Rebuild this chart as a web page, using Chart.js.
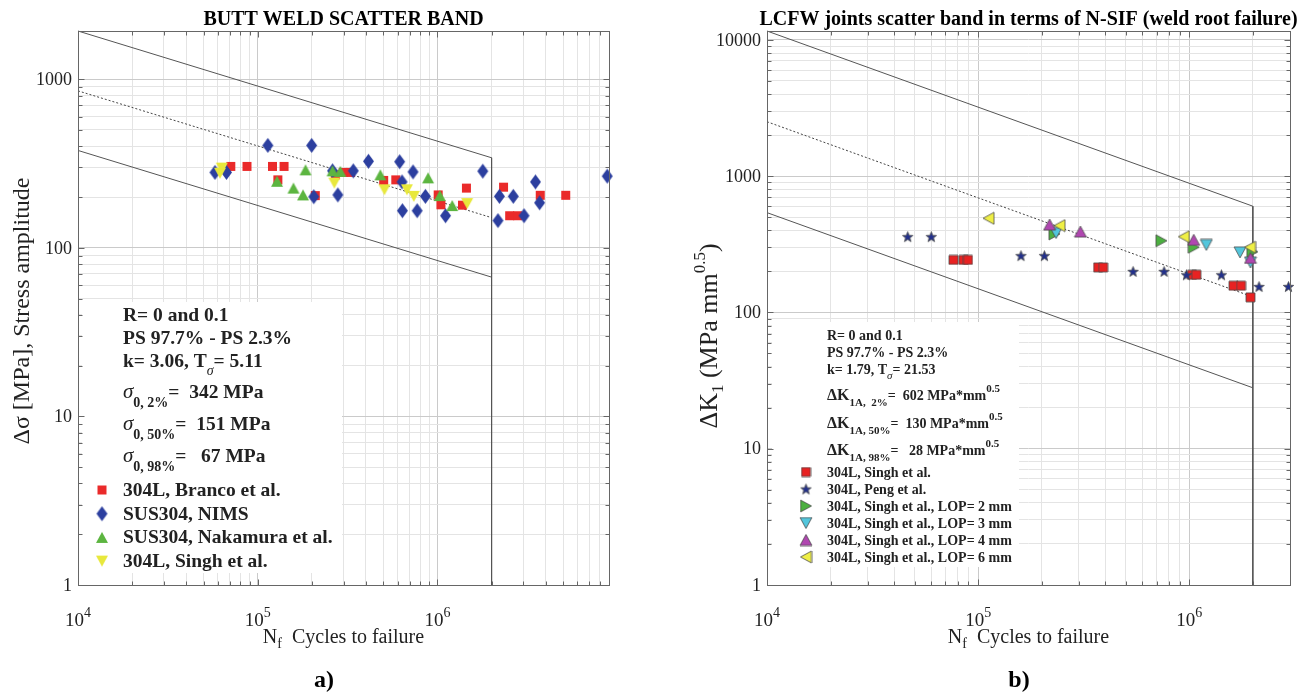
<!DOCTYPE html>
<html>
<head>
<meta charset="utf-8">
<title>Scatter bands</title>
<script src="https://cdn.jsdelivr.net/npm/chart.js@4.4.1/dist/chart.umd.min.js"></script>
<style>
  html, body { margin: 0; padding: 0; background: #fff; }
  #wrap { position: relative; width: 1305px; height: 692px; }
  #wrap canvas { position: absolute; left: 0; top: 0; }
</style>
</head>
<body>
<div id="wrap">
  <canvas id="buttWeld" width="1305" height="692"></canvas>
  <canvas id="lcfw" width="1305" height="692"></canvas>
</div>
<script>
// ---- butt weld data: cycles to failure / stress amplitude [MPa]
const brancoN = [70800, 87100, 120800, 140000, 129400, 209000, 270000, 299000, 328000, 502000,
                 586000, 1009000, 1045000, 1377000, 1449000, 2330000, 2520000, 2790000, 3730000, 5170000];
const brancoS = [304, 304, 304, 304, 253, 204, 271, 280, 280, 251,
                 253, 206, 180, 179, 226, 229, 155, 155, 205, 205];

const nimsN = [57800, 67000, 113800, 199500, 205000, 279000, 260600, 340000, 413000, 616000,
               635000, 731000, 638000, 771000, 857000, 1109000, 1787000, 2170000, 2210000, 2640000,
               3030000, 3510000, 3700000, 8800000];
const nimsS = [280, 280, 405, 405, 201, 206, 286, 286, 326, 324,
               246, 282, 166, 166, 202, 155, 285, 145, 202, 202,
               155, 246, 185, 266];

const nakamuraN = [128000, 184500, 158000, 178600, 260600, 288000, 481000, 887000, 1030000, 1208000];
const nakamuraS = [248, 290, 226, 206, 286, 284, 271, 260, 204, 178];

const singhButtN = [63100, 61700, 266700, 507000, 676000, 738000, 1462000];
const singhButtS = [297, 277, 242, 221, 221, 202, 183];

// scatter band (k = 3.06), values at 1e4 and 2e6 cycles
const buttBandN = [1e4, 2e6];
const buttUpper = [1932, 342];
const buttMedian = [853, 151];
const buttLower = [378, 67];
const buttCutoffN = [2e6, 2e6];
const buttCutoffS = [342, 1];
const buttXMax = 9e6;
const buttYTicks = [1, 10, 100, 1000];

// ---- LCFW joints: cycles to failure / N-SIF range [MPa mm^0.5]
const singhN = [76400, 85300, 89500, 370000, 391000, 1030000, 1080000, 1620000, 1760000, 1950000];
const singhK = [243, 243, 243, 214, 214, 189, 189, 157, 157, 129];

const pengN = [46400, 60000, 159500, 206000, 542000, 760000, 970000, 1420000, 2140000, 2950000];
const pengK = [360, 360, 261, 261, 200, 200, 189, 189, 155, 155];

const lop2N = [229700, 738000, 1050000, 1990000];
const lop2K = [377, 336, 301, 279];
const lop3N = [234000, 1205000, 1740000, 1950000];
const lop3K = [383, 313, 276, 233];
const lop4N = [218000, 305000, 1050000, 1950000];
const lop4K = [441, 392, 341, 251];
const lop6N = [112000, 243000, 942000, 1940000];
const lop6K = [491, 434, 360, 301];

// scatter band (k = 1.79)
const lcfwBandN = [1e4, 2e6];
const lcfwUpper = [11620, 602];
const lcfwMedian = [2509, 130];
const lcfwLower = [540, 28];
const lcfwCutoffN = [2e6, 2e6];
const lcfwCutoffK = [602, 1];
const lcfwXMax = 3e6;
const lcfwYTicks = [1, 10, 100, 1000, 10000];

const xTickExps = [4, 5, 6];

const SERIF = '"Liberation Serif", "Times New Roman", serif';
const font = (size, weight = '', style = '') => `${style} ${weight} ${size}px ${SERIF}`;
Chart.defaults.font.family = SERIF;

const pts = (xs, ys) => xs.map((x, i) => ({ x, y: ys[i] }));

const isDecade = v => Math.abs(Math.log10(v) - Math.round(Math.log10(v))) < 1e-6;
// only 1..9 x 10^n gets a grid line (chart.js adds 1.5 x 10^n and the axis max)
const onGrid = v => {
  const m = v / Math.pow(10, Math.floor(Math.log10(v) + 1e-9));
  return Math.abs(m - Math.round(m)) < 1e-6;
};
const gridColor = c => {
  const v = c.tick && c.tick.value;
  if (!v || !onGrid(v)) return 'rgba(0,0,0,0)';
  return isDecade(v) ? '#cacaca' : '#e4e4e4';
};

// matlab-like marker glyphs
function marker(shape, w, h, fill, edge) {
  const c = document.createElement('canvas');
  c.width = w + 2; c.height = h + 2;
  const g = c.getContext('2d');
  const cx = c.width / 2, cy = c.height / 2, rx = w / 2, ry = h / 2;
  g.beginPath();
  if (shape === 'square') g.rect(cx - rx, cy - ry, w, h);
  else if (shape === 'diamond') { g.moveTo(cx, cy - ry); g.lineTo(cx + rx, cy); g.lineTo(cx, cy + ry); g.lineTo(cx - rx, cy); }
  else if (shape === 'up') { g.moveTo(cx, cy - ry); g.lineTo(cx + rx, cy + ry); g.lineTo(cx - rx, cy + ry); }
  else if (shape === 'down') { g.moveTo(cx - rx, cy - ry); g.lineTo(cx + rx, cy - ry); g.lineTo(cx, cy + ry); }
  else if (shape === 'right') { g.moveTo(cx - rx, cy - ry); g.lineTo(cx + rx, cy); g.lineTo(cx - rx, cy + ry); }
  else if (shape === 'left') { g.moveTo(cx + rx, cy - ry); g.lineTo(cx - rx, cy); g.lineTo(cx + rx, cy + ry); }
  else if (shape === 'star') {
    for (let i = 0; i < 10; i++) {
      const a = -Math.PI / 2 + i * Math.PI / 5, r = i % 2 ? 0.42 : 1;
      g.lineTo(cx + Math.cos(a) * rx * r, cy + ry * 0.1 + Math.sin(a) * ry * r);
    }
  }
  g.closePath();
  g.fillStyle = fill;
  g.fill();
  if (edge) { g.lineWidth = 0.8; g.strokeStyle = edge; g.stroke(); }
  return c;
}

const EDGE = '#4a4a4a';
const mk = {
  branco: marker('square', 9, 9, '#ea2a2a'),
  nims: marker('diamond', 11, 15, '#2c3f9f'),
  nakamura: marker('up', 12, 11, '#5cb540'),
  singhButt: marker('down', 12, 11, '#e8e83c'),
  singh: marker('square', 9, 9, '#e82222', EDGE),
  peng: marker('star', 11, 11, '#22308c', EDGE),
  lop2: marker('right', 11, 12, '#4cb040', EDGE),
  lop3: marker('down', 12, 11, '#52c6dc', EDGE),
  lop4: marker('up', 12, 11, '#b046b0', EDGE),
  lop6: marker('left', 11, 12, '#efef45', EDGE)
};

function lineSet(xs, ys, dotted) {
  return {
    data: pts(xs, ys), showLine: true, borderColor: dotted ? '#444' : '#555', borderWidth: 1,
    borderDash: dotted ? [2, 2] : [], pointRadius: 0, order: 10, clip: false
  };
}
function pointSet(xs, ys, img, order) {
  return {
    data: pts(xs, ys), showLine: false, pointStyle: img, pointRadius: 5, pointHoverRadius: 5,
    pointBorderWidth: 0, order, clip: false
  };
}

function runsWidth(ctx, runs) {
  let w = 0;
  runs.forEach(([t, f]) => { ctx.font = f; w += ctx.measureText(t).width; });
  return w;
}
function drawRuns(ctx, x, y, runs) {
  runs.forEach(([t, f, dy]) => {
    ctx.font = f;
    ctx.fillText(t, x, y + (dy || 0));
    x += ctx.measureText(t).width;
  });
  return x;
}

function axisOptions(o) {
  const grid = { color: gridColor, lineWidth: 1, drawTicks: false };
  return {
    responsive: false, animation: false, events: [],
    layout: { padding: o.padding },
    plugins: { legend: { display: false }, tooltip: { enabled: false } },
    scales: {
      x: {
        type: 'logarithmic', min: 1e4, max: o.xMax, grid, border: { display: false },
        ticks: { display: false }, afterFit: s => { s.height = 107; }
      },
      y: {
        type: 'logarithmic', min: 1, max: o.yMax, grid, border: { display: false },
        ticks: { display: false }, afterFit: s => { s.width = o.yWidth; }
      }
    }
  };
}

// frame, inward ticks, labels, titles and the in-plot legend box
function makeDecor(cfg) {
  return {
    id: 'decor',
    beforeDatasetsDraw(chart) {
      const ctx = chart.ctx, b = cfg.box;
      ctx.save();
      ctx.fillStyle = '#fff';
      ctx.fillRect(b[0], b[1], b[2] - b[0], b[3] - b[1]);
      ctx.restore();
    },
    afterDatasetsDraw(chart) {
      const ctx = chart.ctx;
      const { left, right, top, bottom } = chart.chartArea;
      const xs = chart.scales.x, ys = chart.scales.y;
      ctx.save();
      ctx.strokeStyle = '#666';
      ctx.lineWidth = 1;
      const L = Math.round(left) + 0.5, R = Math.round(right) + 0.5;
      const T = Math.round(top) + 0.5, B = Math.round(bottom) + 0.5;
      ctx.strokeRect(L, T, R - L, B - T);
      ctx.beginPath();
      xs.ticks.forEach(t => {
        if (!onGrid(t.value)) return;
        const p = Math.round(xs.getPixelForValue(t.value)) + 0.5, n = isDecade(t.value) ? 6 : 4;
        ctx.moveTo(p, B); ctx.lineTo(p, B - n);
        ctx.moveTo(p, T); ctx.lineTo(p, T + n);
      });
      ys.ticks.forEach(t => {
        if (!onGrid(t.value)) return;
        const p = Math.round(ys.getPixelForValue(t.value)) + 0.5, n = isDecade(t.value) ? 6 : 4;
        ctx.moveTo(L, p); ctx.lineTo(L + n, p);
        ctx.moveTo(R, p); ctx.lineTo(R - n, p);
      });
      ctx.stroke();

      // tick labels
      ctx.fillStyle = '#222';
      ctx.textAlign = 'right';
      ctx.textBaseline = 'middle';
      ctx.font = font(18);
      cfg.yTicks.forEach(v => ctx.fillText(String(v), left - 6, ys.getPixelForValue(v) + 1));
      ctx.textAlign = 'left';
      ctx.textBaseline = 'alphabetic';
      xTickExps.forEach(e => {
        const runs = [['10', font(19)], [String(e), font(14), -9]];
        const w = runsWidth(ctx, runs);
        drawRuns(ctx, xs.getPixelForValue(Math.pow(10, e)) - w / 2, 626, runs);
      });

      // axis titles
      ctx.fillStyle = '#222';
      const xr = [['N', font(20)], ['f', font(14), 5], ['  Cycles to failure', font(20)]];
      drawRuns(ctx, (left + right) / 2 - runsWidth(ctx, xr) / 2, 643, xr);
      ctx.save();
      ctx.translate(cfg.yTitle[0], cfg.yTitle[1]);
      ctx.rotate(-Math.PI / 2);
      drawRuns(ctx, -runsWidth(ctx, cfg.yTitle[2]) / 2, 0, cfg.yTitle[2]);
      ctx.restore();

      // chart title and panel letter
      ctx.fillStyle = '#000';
      ctx.textAlign = 'center';
      ctx.font = font(20, 'bold');
      ctx.fillText(cfg.title, (left + right) / 2, 25);
      ctx.font = font(24, 'bold');
      ctx.fillText(cfg.panel[0], cfg.panel[1], 687);
      ctx.textAlign = 'left';

      cfg.legend(ctx);
      ctx.restore();
    }
  };
}

function drawKey(ctx, img, x, y) {
  ctx.drawImage(img, x - img.width / 2, y - img.height / 2);
}

// ---- a) butt weld scatter band
new Chart(document.getElementById('buttWeld'), {
  type: 'scatter',
  data: {
    datasets: [
      lineSet(buttBandN, buttUpper, false),
      lineSet(buttBandN, buttMedian, true),
      lineSet(buttBandN, buttLower, false),
      lineSet(buttCutoffN, buttCutoffS, false),
      pointSet(brancoN, brancoS, mk.branco, 4),
      pointSet(nimsN, nimsS, mk.nims, 3),
      pointSet(nakamuraN, nakamuraS, mk.nakamura, 2),
      pointSet(singhButtN, singhButtS, mk.singhButt, 1)
    ]
  },
  options: axisOptions({ padding: { left: 0, top: 31, right: 696, bottom: 0 }, yWidth: 78, xMax: buttXMax, yMax: buttUpper[0] }),
  plugins: [makeDecor({
    title: 'BUTT WELD SCATTER BAND',
    panel: ['a)', 324],
    yTicks: buttYTicks,
    yTitle: [29, 311, [['Δσ [MPa], Stress amplitude', font(24)]]],
    box: [82, 302, 342, 573],
    legend(ctx) {
      const b = font(19.5, 'bold'), sub = font(14, 'bold'), sig = font(21, '', 'italic');
      ctx.fillStyle = '#222';
      const x = 123;
      drawRuns(ctx, x, 321, [['R= 0 and 0.1', b]]);
      drawRuns(ctx, x, 344, [['PS 97.7% - PS 2.3%', b]]);
      drawRuns(ctx, x, 367, [['k= 3.06, T', b], ['σ', font(14, '', 'italic'), 8], ['= 5.11', b]]);
      drawRuns(ctx, x, 398, [['σ', sig], ['0, 2%', sub, 9], ['=  342 MPa', b]]);
      drawRuns(ctx, x, 430, [['σ', sig], ['0, 50%', sub, 9], ['=  151 MPa', b]]);
      drawRuns(ctx, x, 462, [['σ', sig], ['0, 98%', sub, 9], ['=   67 MPa', b]]);
      const items = [
        [mk.branco, '304L, Branco et al.'],
        [mk.nims, 'SUS304, NIMS'],
        [mk.nakamura, 'SUS304, Nakamura et al.'],
        [mk.singhButt, '304L, Singh et al.']
      ];
      items.forEach(([img, label], i) => {
        const y = 496 + i * 23.7;
        drawKey(ctx, img, 102, y - 6);
        drawRuns(ctx, x, y, [[label, b]]);
      });
    }
  })]
});

// ---- b) LCFW joints, N-SIF scatter band
new Chart(document.getElementById('lcfw'), {
  type: 'scatter',
  data: {
    datasets: [
      lineSet(lcfwBandN, lcfwUpper, false),
      lineSet(lcfwBandN, lcfwMedian, true),
      lineSet(lcfwBandN, lcfwLower, false),
      lineSet(lcfwCutoffN, lcfwCutoffK, false),
      pointSet(singhN, singhK, mk.singh, 6),
      pointSet(pengN, pengK, mk.peng, 5),
      pointSet(lop2N, lop2K, mk.lop2, 4),
      pointSet(lop3N, lop3K, mk.lop3, 3),
      pointSet(lop4N, lop4K, mk.lop4, 2),
      pointSet(lop6N, lop6K, mk.lop6, 1)
    ]
  },
  options: axisOptions({ padding: { left: 660, top: 31, right: 15, bottom: 0 }, yWidth: 107, xMax: lcfwXMax, yMax: lcfwUpper[0] }),
  plugins: [makeDecor({
    title: 'LCFW joints scatter band in terms of N-SIF (weld root failure)',
    panel: ['b)', 1019],
    yTicks: lcfwYTicks,
    yTitle: [717, 336, [['ΔK', font(26)], ['1', font(17), 6], [' (MPa mm', font(26)], ['0.5', font(17), -12], [')', font(26)]]],
    box: [772, 322, 1019, 567],
    legend(ctx) {
      const b = font(14, 'bold'), sub = font(11, 'bold');
      ctx.fillStyle = '#222';
      const x = 827;
      drawRuns(ctx, x, 340, [['R= 0 and 0.1', b]]);
      drawRuns(ctx, x, 357, [['PS 97.7% - PS 2.3%', b]]);
      drawRuns(ctx, x, 374, [['k= 1.79, T', b], ['σ', font(11, '', 'italic'), 5], ['= 21.53', b]]);
      [['1A,  2%', '=  602'], ['1A, 50%', '=  130'], ['1A, 98%', '=   28']].forEach(([s, v], i) => {
        const y = 400 + i * 27.5;
        drawRuns(ctx, x, y, [['ΔK', font(16, 'bold')], [s, sub, 6], [v + ' MPa*mm', b], ['0.5', sub, -8]]);
      });
      const items = [
        [mk.singh, '304L, Singh et al.'],
        [mk.peng, '304L, Peng et al.'],
        [mk.lop2, '304L, Singh et al., LOP= 2 mm'],
        [mk.lop3, '304L, Singh et al., LOP= 3 mm'],
        [mk.lop4, '304L, Singh et al., LOP= 4 mm'],
        [mk.lop6, '304L, Singh et al., LOP= 6 mm']
      ];
      items.forEach(([img, label], i) => {
        const y = 477 + i * 17;
        drawKey(ctx, img, 806, y - 5);
        drawRuns(ctx, x, y, [[label, b]]);
      });
    }
  })]
});
</script>
</body>
</html>
